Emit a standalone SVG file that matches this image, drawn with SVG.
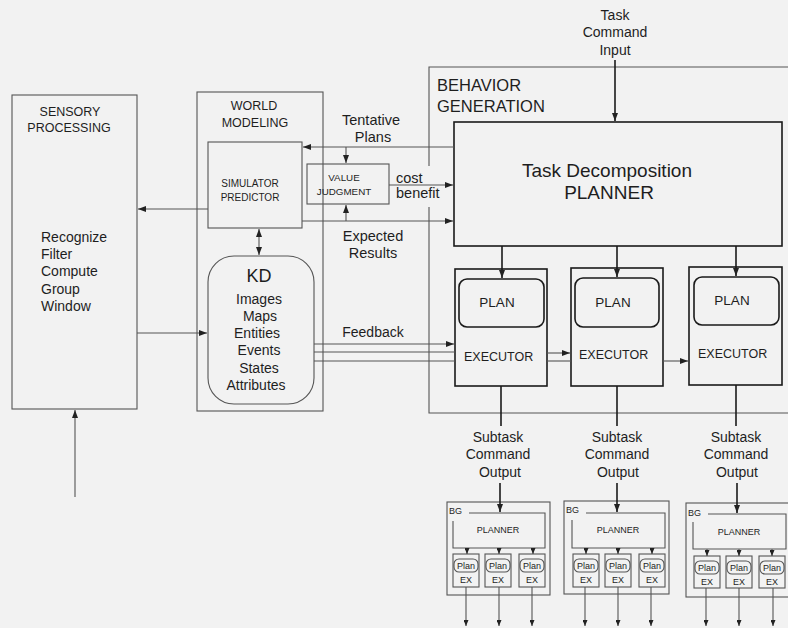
<svg xmlns="http://www.w3.org/2000/svg" width="788" height="628" viewBox="0 0 788 628">
<defs>
<marker id="ah" markerUnits="userSpaceOnUse" markerWidth="8" markerHeight="6" refX="8" refY="3" orient="auto-start-reverse"><path d="M0,0 L8,3 L0,6 z" fill="#222"/></marker>
<marker id="as" markerUnits="userSpaceOnUse" markerWidth="6" markerHeight="5" refX="6" refY="2.5" orient="auto"><path d="M0,0 L6,2.5 L0,5 z" fill="#222"/></marker>
<style>
text{font-family:"Liberation Sans",Arial,sans-serif;fill:#1e1e1e}
.box{fill:none;stroke:#555;stroke-width:1.1}
.bold{fill:none;stroke:#1a1a1a;stroke-width:1.6}
.ln{fill:none;stroke:#555;stroke-width:1.1}
.lnb{fill:none;stroke:#1a1a1a;stroke-width:1.6}
.arr{marker-end:url(#ah)}
.sarr{marker-end:url(#as)}
.t12{font-size:12px}
.t14{font-size:14px}
.t145{font-size:14.5px}
.t10{font-size:10px}
.sm{font-size:9px}
.c{text-anchor:middle}
</style>
</defs>
<rect x="0" y="0" width="788" height="628" fill="#f2f2f2"/>

<g id="sensory-processing">
<rect class="box" x="12" y="95" width="125" height="314"/>
<text class="c" style="font-size:12.5px" x="70" y="116">SENSORY</text>
<text class="c" style="font-size:12.5px" x="69" y="132">PROCESSING</text>
<text class="t14" x="41" y="242">Recognize</text>
<text class="t14" x="41" y="259">Filter</text>
<text class="t14" x="41" y="276">Compute</text>
<text class="t14" x="41" y="294">Group</text>
<text class="t14" x="41" y="311">Window</text>
</g>

<g id="world-modeling">
<rect class="box" x="197" y="92" width="126" height="319"/>
<text class="c" style="font-size:12.5px" x="254" y="110">WORLD</text>
<text class="c" style="font-size:12.5px" x="255" y="127">MODELING</text>
</g>

<g id="simulator-predictor">
<rect class="box" x="208" y="142" width="94" height="86"/>
<text class="t10 c" x="250" y="187">SIMULATOR</text>
<text class="t10 c" x="250" y="201">PREDICTOR</text>
</g>

<g id="value-judgment">
<rect class="box" x="307" y="164" width="82" height="40"/>
<text class="c" style="font-size:9.8px" x="344" y="181">VALUE</text>
<text class="c" style="font-size:9.8px" x="344" y="195">JUDGMENT</text>
</g>

<g id="kd">
<rect class="box" x="208" y="256" width="106" height="148" rx="26" ry="26"/>
<text class="c" style="font-size:18px" x="259" y="282">KD</text>
<text class="t14 c" x="259" y="304">Images</text>
<text class="t14 c" x="260" y="321">Maps</text>
<text class="t14 c" x="257" y="338">Entities</text>
<text class="t14 c" x="259" y="355">Events</text>
<text class="t14 c" x="259" y="373">States</text>
<text class="t14 c" x="256" y="390">Attributes</text>
</g>

<g id="behavior-generation">
<path class="box" d="M429,166 V67 H790 M429,207 V413 H790"/>
<text style="font-size:16.5px" x="437" y="91">BEHAVIOR</text>
<text style="font-size:16.5px" x="437" y="112">GENERATION</text>
</g>

<g id="task-decomposition-planner">
<rect class="bold" x="454" y="122" width="328" height="124"/>
<text class="c" style="font-size:19px" x="607" y="177">Task Decomposition</text>
<text class="c" style="font-size:19px" x="609" y="199">PLANNER</text>
</g>

<g id="executor-1">
<rect class="bold" x="455" y="269" width="92" height="117"/>
<rect class="bold" x="459" y="279" width="85" height="48" rx="8"/>
<text class="c" style="font-size:13.5px" x="497" y="307">PLAN</text>
<text style="font-size:12.5px" x="464" y="361">EXECUTOR</text>
</g>
<g id="executor-2">
<rect class="bold" x="571" y="268" width="92" height="118"/>
<rect class="bold" x="575" y="278" width="84" height="49" rx="8"/>
<text class="c" style="font-size:13.5px" x="613" y="307">PLAN</text>
<text style="font-size:12.5px" x="579" y="359">EXECUTOR</text>
</g>
<g id="executor-3">
<rect class="bold" x="689" y="267" width="93" height="118"/>
<rect class="bold" x="694" y="277" width="85" height="48" rx="8"/>
<text class="c" style="font-size:13.5px" x="732" y="305">PLAN</text>
<text style="font-size:12.5px" x="698" y="358">EXECUTOR</text>
</g>

<g id="bg-1" transform="translate(447,502)">
<rect class="box" x="0" y="0" width="103" height="93"/>
<text class="sm" x="2" y="12">BG</text>
<path class="box" d="M22,11 H98 V46 H6 V19"/>
<text class="sm c" x="51" y="31">PLANNER</text>
<rect class="box" x="6" y="52" width="26" height="33"/>
<rect class="box" x="7" y="57" width="24" height="13" rx="5"/>
<text class="sm c" x="19" y="67">Plan</text>
<text class="sm c" x="19" y="81">EX</text>
<rect class="box" x="38" y="52" width="26" height="33"/>
<rect class="box" x="39" y="57" width="24" height="13" rx="5"/>
<text class="sm c" x="51" y="67">Plan</text>
<text class="sm c" x="51" y="81">EX</text>
<rect class="box" x="72" y="52" width="26" height="33"/>
<rect class="box" x="73" y="57" width="24" height="13" rx="5"/>
<text class="sm c" x="85" y="67">Plan</text>
<text class="sm c" x="85" y="81">EX</text>
</g>
<g id="bg-2" transform="translate(564,501)">
<rect class="box" x="0" y="0" width="105" height="93"/>
<text class="sm" x="2" y="12">BG</text>
<path class="box" d="M22,12 H101 V47 H8 V19"/>
<text class="sm c" x="54" y="32">PLANNER</text>
<rect class="box" x="9" y="53" width="26" height="33"/>
<rect class="box" x="10" y="58" width="24" height="13" rx="5"/>
<text class="sm c" x="22" y="68">Plan</text>
<text class="sm c" x="22" y="82">EX</text>
<rect class="box" x="41" y="53" width="26" height="33"/>
<rect class="box" x="42" y="58" width="24" height="13" rx="5"/>
<text class="sm c" x="54" y="68">Plan</text>
<text class="sm c" x="54" y="82">EX</text>
<rect class="box" x="75" y="53" width="26" height="33"/>
<rect class="box" x="76" y="58" width="24" height="13" rx="5"/>
<text class="sm c" x="88" y="68">Plan</text>
<text class="sm c" x="88" y="82">EX</text>
</g>
<g id="bg-3" transform="translate(686,503)">
<rect class="box" x="0" y="0" width="104" height="94"/>
<text class="sm" x="2" y="13">BG</text>
<path class="box" d="M22,11 H100 V46 H7 V19"/>
<text class="sm c" x="53" y="32">PLANNER</text>
<rect class="box" x="8" y="53" width="26" height="32"/>
<rect class="box" x="9" y="58" width="24" height="13" rx="5"/>
<text class="sm c" x="21" y="68">Plan</text>
<text class="sm c" x="21" y="82">EX</text>
<rect class="box" x="40" y="53" width="26" height="32"/>
<rect class="box" x="41" y="58" width="24" height="13" rx="5"/>
<text class="sm c" x="53" y="68">Plan</text>
<text class="sm c" x="53" y="82">EX</text>
<rect class="box" x="73" y="53" width="26" height="32"/>
<rect class="box" x="74" y="58" width="24" height="13" rx="5"/>
<text class="sm c" x="86" y="68">Plan</text>
<text class="sm c" x="86" y="82">EX</text>
</g>

<g id="connectors">
<line class="ln arr" x1="208" y1="209" x2="138" y2="209"/>
<line class="ln arr" x1="137" y1="333" x2="207" y2="333"/>
<line class="ln arr" x1="75" y1="497" x2="75" y2="410"/>
<line class="ln arr" x1="454" y1="147" x2="303" y2="147"/>
<line class="ln arr" x1="346" y1="147" x2="346" y2="163"/>
<line class="ln arr" x1="389" y1="185" x2="453" y2="185"/>
<line class="ln arr" x1="302" y1="221" x2="453" y2="221"/>
<line class="ln arr" x1="346" y1="221" x2="346" y2="205"/>
<line class="ln arr" style="marker-start:url(#ah)" x1="259" y1="229" x2="259" y2="255"/>
<line class="ln arr" x1="314" y1="344" x2="454" y2="344"/>
<line class="ln" x1="314" y1="352" x2="455" y2="352"/>
<line class="ln" x1="314" y1="361" x2="455" y2="361"/>
<line class="ln arr" x1="547" y1="353" x2="570" y2="353"/>
<line class="ln" x1="547" y1="361" x2="571" y2="361"/>
<line class="ln arr" x1="663" y1="361" x2="688" y2="361"/>
<line class="lnb arr" x1="615" y1="60" x2="615" y2="121"/>
<line class="lnb arr" x1="502" y1="246" x2="502" y2="278"/>
<line class="lnb arr" x1="617" y1="246" x2="617" y2="277"/>
<line class="lnb arr" x1="736" y1="246" x2="736" y2="276"/>
<line class="lnb" x1="501" y1="386" x2="501" y2="426"/>
<line class="lnb" x1="617" y1="386" x2="617" y2="426"/>
<line class="lnb" x1="736" y1="385" x2="736" y2="426"/>
<text class="t14 c" x="498" y="442">Subtask</text>
<text class="t14 c" x="498" y="459">Command</text>
<text class="t14 c" x="500" y="477">Output</text>
<text class="t14 c" x="617" y="442">Subtask</text>
<text class="t14 c" x="617" y="459">Command</text>
<text class="t14 c" x="618" y="477">Output</text>
<text class="t14 c" x="736" y="442">Subtask</text>
<text class="t14 c" x="736" y="459">Command</text>
<text class="t14 c" x="737" y="477">Output</text>
<text class="t14 c" x="615" y="20">Task</text>
<text class="t14 c" x="615" y="37">Command</text>
<text class="t14 c" x="615" y="55">Input</text>
<text class="t145 c" x="371" y="125">Tentative</text>
<text class="t145 c" x="373" y="142">Plans</text>
<text class="t145" x="396" y="183">cost</text>
<text class="t145" x="396" y="198">benefit</text>
<text class="t145 c" x="373" y="241">Expected</text>
<text class="t145 c" x="373" y="258">Results</text>
<text class="t14 c" x="373" y="337">Feedback</text>
<line class="lnb arr" x1="500" y1="483" x2="500" y2="512"/>
<line class="lnb arr" x1="617" y1="483" x2="617" y2="512"/>
<line class="lnb arr" x1="737" y1="483" x2="737" y2="513"/>
<g transform="translate(447,502)">
<line class="ln sarr" x1="20" y1="46" x2="20" y2="52"/>
<line class="ln sarr" x1="52" y1="46" x2="52" y2="52"/>
<line class="ln sarr" x1="86" y1="46" x2="86" y2="52"/>
<line class="ln sarr" x1="19" y1="85" x2="19" y2="124"/>
<line class="ln sarr" x1="52" y1="85" x2="52" y2="124"/>
<line class="ln sarr" x1="85" y1="85" x2="85" y2="124"/>
</g>
<g transform="translate(564,501)">
<line class="ln sarr" x1="22" y1="47" x2="22" y2="53"/>
<line class="ln sarr" x1="54" y1="47" x2="54" y2="53"/>
<line class="ln sarr" x1="88" y1="47" x2="88" y2="53"/>
<line class="ln sarr" x1="21" y1="86" x2="21" y2="125"/>
<line class="ln sarr" x1="54" y1="86" x2="54" y2="125"/>
<line class="ln sarr" x1="87" y1="86" x2="87" y2="125"/>
</g>
<g transform="translate(686,503)">
<line class="ln sarr" x1="21" y1="46" x2="21" y2="53"/>
<line class="ln sarr" x1="53" y1="46" x2="53" y2="53"/>
<line class="ln sarr" x1="86" y1="46" x2="86" y2="53"/>
<line class="ln sarr" x1="20" y1="85" x2="20" y2="123"/>
<line class="ln sarr" x1="53" y1="85" x2="53" y2="123"/>
<line class="ln sarr" x1="87" y1="85" x2="87" y2="123"/>
</g>
</g>
</svg>
